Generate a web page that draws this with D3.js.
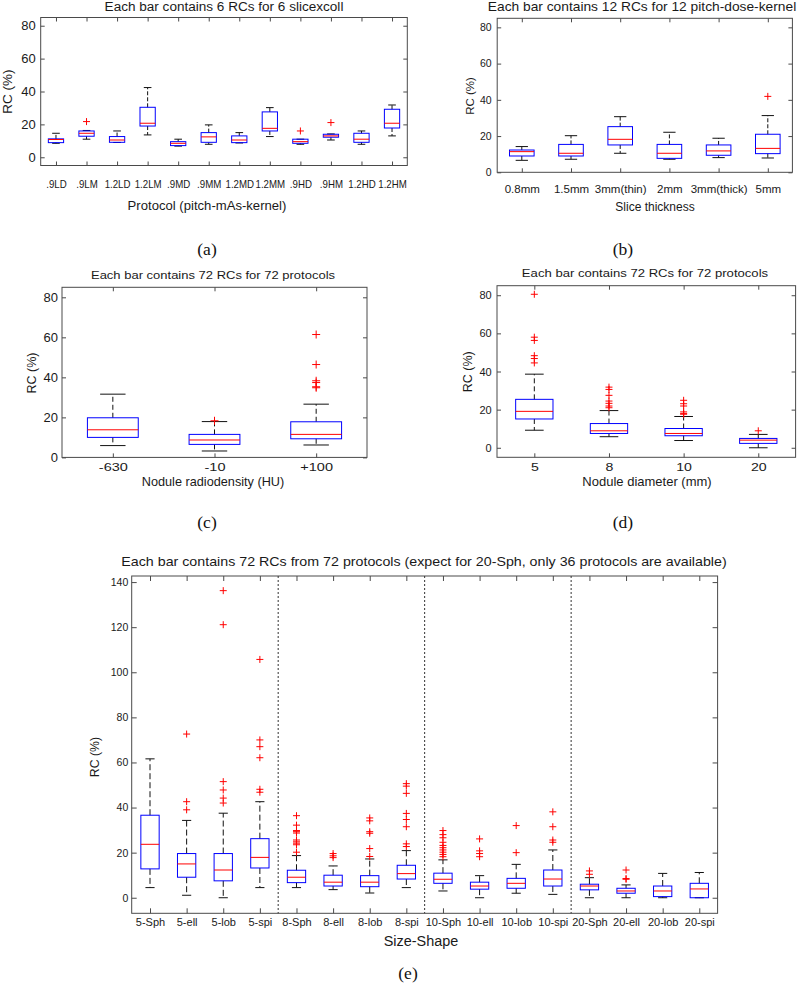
<!DOCTYPE html>
<html><head><meta charset="utf-8">
<script src="https://cdn.jsdelivr.net/npm/d3@7"></script>
<style>body{margin:0;background:#fff} svg{display:block}</style>
</head><body>
<svg id="c" width="800" height="985"></svg>
<script>
// ---------------- DATA ----------------
// Panel (a)
const aCats = [".9LD",".9LM","1.2LD","1.2LM",".9MD",".9MM","1.2MD","1.2MM",".9HD",".9HM","1.2HD","1.2HM"];
const aLow  = [8.5, 11.0, 9.0, 13.6, 6.8, 7.9, 8.7, 12.6, 7.9, 10.5, 7.9, 13.0];
const aQ1   = [8.9, 12.8, 9.1, 19.0, 7.1, 9.1, 8.9, 16.0, 8.5, 12.2, 9.1, 17.8];
const aMed  = [10.8, 14.6, 10.5, 20.7, 8.5, 12.4, 10.5, 17.6, 9.5, 13.0, 11.0, 20.7];
const aQ3   = [11.2, 16.0, 12.6, 30.4, 9.5, 15.0, 13.0, 27.6, 11.0, 14.0, 14.6, 29.2];
const aHigh = [14.6, 16.3, 16.0, 42.4, 11.0, 19.7, 15.0, 30.2, 11.0, 14.2, 16.0, 31.8];
const aOut  = [[],[21.7],[],[],[],[],[],[],[16.0],[21.1],[],[]];
const aTicks = [0, 20, 40, 60, 80];

// Panel (b)
const bCats = ["0.8mm","1.5mm","3mm(thin)","2mm","3mm(thick)","5mm"];
const bLow  = [6.6, 7.2, 10.5, 7.2, 8.1, 7.9];
const bQ1   = [9.0, 9.0, 15.1, 7.7, 9.4, 10.3];
const bMed  = [11.4, 10.5, 18.2, 10.5, 11.8, 13.2];
const bQ3   = [12.3, 15.4, 25.2, 15.4, 15.1, 21.0];
const bHigh = [14.2, 20.2, 30.7, 22.1, 18.8, 31.3];
const bOut  = [[],[],[],[],[],[41.9]];
const bTicks = [0, 20, 40, 60, 80];

// Panel (c)
const cCats = ["-630","-10","+100"];
const cLow  = [5.9, 3.2, 6.2];
const cQ1   = [10.0, 6.5, 9.3];
const cMed  = [13.8, 8.7, 11.5];
const cQ3   = [19.8, 11.5, 17.8];
const cHigh = [31.6, 17.9, 26.6];
const cOut  = [[], [18.3], [61.4, 46.4, 38.3, 37.4, 35.3, 34.8]];
const cTicks = [0, 20, 40, 60, 80];

// Panel (d)
const dCats = ["5","8","10","20"];
const dLow  = [9.2, 5.8, 3.8, 0.0];
const dQ1   = [15.1, 7.5, 6.3, 2.3];
const dMed  = [19.1, 8.9, 7.5, 4.0];
const dQ3   = [25.4, 12.7, 10.1, 4.9];
const dHigh = [38.6, 19.5, 16.4, 7.0];
const dOut  = [[80.5, 58.0, 56.3, 48.3, 46.8, 44.5],
               [31.8, 30.6, 27.5, 24.5, 23.3, 21.9, 21.0],
               [24.9, 23.1, 21.9, 18.8, 17.9, 17.6],
               [8.9]];
const dTicks = [0, 20, 40, 60, 80];

// Panel (e)
const eCats = ["5-Sph","5-ell","5-lob","5-spi","8-Sph","8-ell","8-lob","8-spi",
               "10-Sph","10-ell","10-lob","10-spi","20-Sph","20-ell","20-lob","20-spi"];
const eLow  = [4.5, 1.1, 0.0, 4.5, 4.5, 3.6, 2.1, 4.5, 3.0, 0.0, 2.0, 1.5, 0.0, 0.0, 0.0, 0.0];
const eQ1   = [12.8, 9.1, 7.5, 13.2, 6.7, 5.2, 4.9, 8.3, 6.4, 3.8, 4.2, 5.2, 3.5, 2.0, 0.5, 0.0];
const eMed  = [23.7, 15.0, 12.3, 17.9, 9.1, 6.9, 6.9, 10.7, 8.2, 5.2, 6.4, 8.3, 5.2, 3.0, 3.0, 3.9];
const eQ3   = [36.6, 19.6, 19.6, 26.2, 12.2, 10.0, 9.8, 14.4, 10.9, 6.9, 8.6, 12.3, 6.0, 4.2, 5.2, 6.4];
const eHigh = [61.6, 34.3, 37.5, 42.6, 18.7, 14.1, 17.2, 20.9, 16.8, 9.8, 14.8, 21.2, 8.9, 5.7, 10.8, 11.2];
const eOut  = [
  [],
  [72.6, 42.6, 39.0],
  [136.2, 121.1, 51.5, 47.8, 44.2, 42.0],
  [105.7, 70.0, 67.0, 62.1, 48.1, 46.8],
  [36.4, 32.2, 29.8, 29.3, 28.7, 25.6, 24.8, 24.2, 23.5, 20.2],
  [19.6, 18.6, 17.8],
  [35.4, 34.1, 29.3, 28.6, 21.8, 18.3],
  [50.6, 49.5, 46.3, 37.4, 34.7, 31.5, 23.9, 22.7],
  [29.8, 28.0, 26.6, 24.6, 23.2, 22.2, 21.2, 20.2, 19.2, 18.2],
  [26.1, 20.8, 19.6, 18.2],
  [32.0, 20.0],
  [38.1, 31.5, 25.6, 24.6],
  [11.9, 10.4],
  [12.3, 8.5, 8.2],
  [],
  []
];
const eTicks = [0, 20, 40, 60, 80, 100, 120, 140];
const eGroupBreaks = [4.5, 8.5, 12.5];

// ---------------- DRAWING ----------------
const svg = d3.select('#c');
const SANS = '"Liberation Sans", Arial, Helvetica, sans-serif';
const SERIF = '"Liberation Serif", "Times New Roman", serif';
const INK = '#1a1a1a';
const AX = '#4a4a4a';

function txt(g, x, y, s, fs, sx, anchor) {
  return g.append('text')
    .attr('transform', `translate(${x},${y}) scale(${sx},1)`)
    .attr('text-anchor', anchor || 'middle')
    .attr('font-family', SANS).attr('font-size', fs).attr('fill', INK)
    .text(s);
}

function panel(p) {
  const g = svg.append('g');
  const n = p.cats.length;
  const idx = d3.range(1, n + 1);
  const x = d3.scaleLinear().domain([0.5, n + 0.5]).range([p.left, p.right]);
  const y = d3.scaleLinear().domain(p.ydom).range([p.bottom, p.top]);
  const tl = p.tl || 4;

  const styleAxis = (sel, fs) => {
    sel.select('.domain').remove();
    sel.selectAll('line').attr('stroke', AX);
    sel.attr('font-family', SANS).attr('font-size', fs);
    sel.selectAll('text').attr('fill', INK);
  };

  // Left axis with labels
  g.append('g').attr('transform', `translate(${p.left},0)`)
    .call(d3.axisLeft(y).tickValues(p.ticks).tickSizeInner(-tl).tickSizeOuter(0).tickPadding(p.ytPad))
    .call(s => styleAxis(s, p.ytFs));
  // Right axis ticks
  g.append('g').attr('transform', `translate(${p.right},0)`)
    .call(d3.axisRight(y).tickValues(p.ticks).tickSizeInner(-tl).tickSizeOuter(0).tickFormat(''))
    .call(s => styleAxis(s, p.ytFs));
  // Top axis ticks
  g.append('g').attr('transform', `translate(0,${p.top})`)
    .call(d3.axisTop(x).tickValues(idx).tickSizeInner(-tl).tickSizeOuter(0).tickFormat(''))
    .call(s => styleAxis(s, p.xtFs));
  // Bottom axis with category labels
  const pad = p.xtBase - p.bottom - 0.71 * p.xtFs;
  g.append('g').attr('transform', `translate(0,${p.bottom})`)
    .call(d3.axisBottom(x).tickValues(idx).tickSizeInner(-tl).tickSizeOuter(0)
      .tickPadding(pad).tickFormat(i => p.cats[i - 1]))
    .call(s => styleAxis(s, p.xtFs))
    .call(s => s.selectAll('text').attr('transform', `scale(${p.xtSx},1)`));

  // Frame
  g.append('rect').attr('x', p.left).attr('y', p.top)
    .attr('width', p.right - p.left).attr('height', p.bottom - p.top)
    .attr('fill', 'none').attr('stroke', AX).attr('stroke-width', 1);

  // Group separators
  (p.breaks || []).forEach(b => {
    g.append('line').attr('x1', x(b)).attr('x2', x(b)).attr('y1', p.top).attr('y2', p.bottom)
      .attr('stroke', '#333').attr('stroke-width', 1).attr('stroke-dasharray', '2,2');
  });

  const hb = x(1.25) - x(1);     // half box width (box width 0.5)
  const hc = x(1.125) - x(1);    // half cap width
  const ps = p.plus || 3.5;

  idx.forEach(k => {
    const i = k - 1, cx = x(k);
    const bx = g.append('g');
    // whiskers (dashed)
    bx.append('line').attr('x1', cx).attr('x2', cx).attr('y1', y(p.q3[i])).attr('y2', y(p.hi[i]))
      .attr('stroke', '#111').attr('stroke-dasharray', p.dash);
    bx.append('line').attr('x1', cx).attr('x2', cx).attr('y1', y(p.q1[i])).attr('y2', y(p.lo[i]))
      .attr('stroke', '#111').attr('stroke-dasharray', p.dash);
    // caps
    [p.hi[i], p.lo[i]].forEach(v => {
      bx.append('line').attr('x1', cx - hc).attr('x2', cx + hc).attr('y1', y(v)).attr('y2', y(v))
        .attr('stroke', '#111');
    });
    // box
    bx.append('rect').attr('x', cx - hb).attr('width', 2 * hb)
      .attr('y', y(p.q3[i])).attr('height', Math.max(0.5, y(p.q1[i]) - y(p.q3[i])))
      .attr('fill', 'none').attr('stroke', '#0000ff').attr('stroke-width', 1);
    // median
    bx.append('line').attr('x1', cx - hb).attr('x2', cx + hb).attr('y1', y(p.med[i])).attr('y2', y(p.med[i]))
      .attr('stroke', '#ff0000').attr('stroke-width', 1);
    // outliers
    bx.selectAll('path.o').data(p.out[i]).join('path').attr('class', 'o')
      .attr('d', v => `M${cx - ps},${y(v)}H${cx + ps}M${cx},${y(v) - ps}V${y(v) + ps}`)
      .attr('stroke', '#ff0000').attr('stroke-width', 1).attr('fill', 'none');
  });

  // Titles and labels
  txt(g, p.titleX, p.titleY, p.title, p.titleFs, p.titleSx, 'middle');
  txt(g, p.xlabX, p.xlabY, p.xlab, p.xlabFs, p.xlabSx, 'middle');
  g.append('text')
    .attr('transform', `translate(${p.ylabX},${p.ylabY}) rotate(-90)`)
    .attr('text-anchor', 'middle').attr('dy', '0.35em')
    .attr('font-family', SANS).attr('font-size', p.ylabFs).attr('fill', INK)
    .text('RC (%)');
  g.append('text').attr('x', p.subX).attr('y', p.subY).attr('text-anchor', 'middle')
    .attr('font-family', SERIF).attr('font-size', 17.5).attr('fill', '#111').text(p.sub);
}

panel({cats: aCats, lo: aLow, q1: aQ1, med: aMed, q3: aQ3, hi: aHigh, out: aOut, ticks: aTicks,
  left: 40.7, right: 407.3, top: 17.5, bottom: 165.5, ydom: [-5, 85],
  title: 'Each bar contains 6 RCs for 6 slicexcoll', titleX: 224, titleY: 11, titleFs: 12, titleSx: 1.13,
  ytFs: 13, ytPad: 5, xtFs: 10, xtSx: 0.97, xtBase: 188.5,
  xlab: 'Protocol (pitch-mAs-kernel)', xlabX: 207, xlabY: 209.5, xlabFs: 12.5, xlabSx: 1.05,
  ylabX: 7.5, ylabY: 91.7, ylabFs: 13.5, sub: '(a)', subX: 207, subY: 255, dash: '4,2', plus: 3.5});

panel({cats: bCats, lo: bLow, q1: bQ1, med: bMed, q3: bQ3, hi: bHigh, out: bOut, ticks: bTicks,
  left: 497.2, right: 792.4, top: 18.3, bottom: 172.3, ydom: [0, 85],
  title: 'Each bar contains 12 RCs for 12 pitch-dose-kernel', titleX: 642, titleY: 11, titleFs: 12.2, titleSx: 1.13,
  ytFs: 10.5, ytPad: 5.5, xtFs: 11.5, xtSx: 1.0, xtBase: 193,
  xlab: 'Slice thickness', xlabX: 655, xlabY: 210.7, xlabFs: 12, xlabSx: 1.0,
  ylabX: 470, ylabY: 96, ylabFs: 11.5, sub: '(b)', subX: 623, subY: 255, dash: '4,2', plus: 3.5});

panel({cats: cCats, lo: cLow, q1: cQ1, med: cMed, q3: cQ3, hi: cHigh, out: cOut, ticks: cTicks,
  left: 62, right: 367, top: 287.3, bottom: 457.4, ydom: [0, 85],
  title: 'Each bar contains 72 RCs for 72 protocols', titleX: 213, titleY: 279, titleFs: 11.5, titleSx: 1.13,
  ytFs: 13, ytPad: 4, xtFs: 11.6, xtSx: 1.25, xtBase: 471.5,
  xlab: 'Nodule radiodensity (HU)', xlabX: 213, xlabY: 486, xlabFs: 12.7, xlabSx: 1.0,
  ylabX: 32, ylabY: 373, ylabFs: 12.5, sub: '(c)', subX: 207, subY: 528, dash: '5,3', plus: 4});

panel({cats: dCats, lo: dLow, q1: dQ1, med: dMed, q3: dQ3, hi: dHigh, out: dOut, ticks: dTicks,
  left: 497, right: 795.6, top: 285.7, bottom: 457.3, ydom: [-5, 85],
  title: 'Each bar contains 72 RCs for 72 protocols', titleX: 645, titleY: 276.7, titleFs: 11.5, titleSx: 1.14,
  ytFs: 11, ytPad: 5.3, xtFs: 11.6, xtSx: 1.22, xtBase: 470.7,
  xlab: 'Nodule diameter (mm)', xlabX: 647, xlabY: 486, xlabFs: 13, xlabSx: 1.0,
  ylabX: 468, ylabY: 371.7, ylabFs: 12.5, sub: '(d)', subX: 623, subY: 528, dash: '5,3', plus: 3.5});

panel({cats: eCats, lo: eLow, q1: eQ1, med: eMed, q3: eQ3, hi: eHigh, out: eOut, ticks: eTicks,
  left: 131.7, right: 717.6, top: 576, bottom: 913.3, ydom: [-6.9, 142.7], breaks: eGroupBreaks,
  title: 'Each bar contains 72 RCs from 72 protocols (expect for 20-Sph, only 36 protocols are available)',
  titleX: 424, titleY: 566, titleFs: 12.5, titleSx: 1.14,
  ytFs: 10.5, ytPad: 3.4, xtFs: 11, xtSx: 1.0, xtBase: 926, tl: 5,
  xlab: 'Size-Shape', xlabX: 421, xlabY: 946, xlabFs: 14, xlabSx: 1.03,
  ylabX: 94.5, ylabY: 757, ylabFs: 12.3, sub: '(e)', subX: 408, subY: 979, dash: '6,3', plus: 3.5});
</script>
</body></html>
